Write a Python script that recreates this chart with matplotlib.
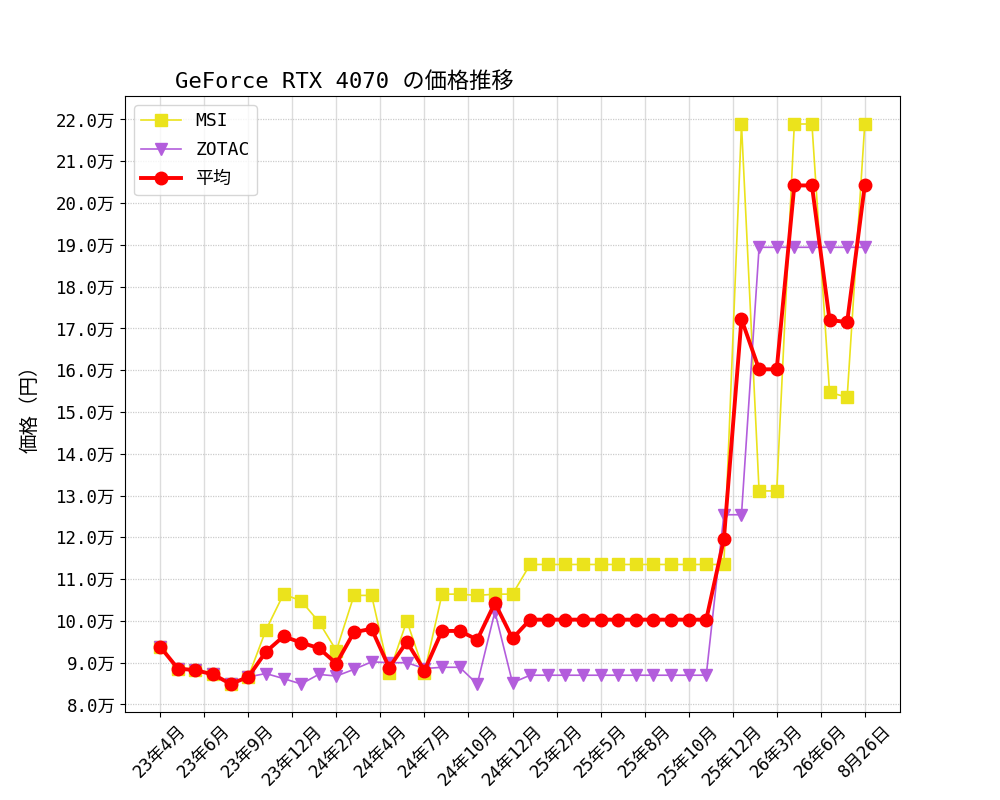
import matplotlib
matplotlib.use("Agg")
import matplotlib.pyplot as plt
from matplotlib.ticker import MultipleLocator, FuncFormatter
import numpy as np

plt.rcParams['font.family'] = ['DejaVu Sans Mono', 'Noto Sans CJK JP']

# x tick labels (17 evenly spaced over the 41 samples)
tick_labels = ['23年4月', '23年6月', '23年9月', '23年12月', '24年2月', '24年4月',
               '24年7月', '24年10月', '24年12月', '25年2月', '25年5月', '25年8月',
               '25年10月', '25年12月', '26年3月', '26年6月', '8月26日']

# prices in yen
msi = [93800, 88600, 88200, 87200, 84900, 86600, 97800, 106400, 104800, 99800,
       92900, 106100, 106100, 87600, 100000, 87600, 106400, 106400, 106100, 106400,
       106400] + [113500] * 12 + [218900, 131100, 131100, 218900, 218900,
                                  154700, 153500, 218900]
zotac = [93800, 88600, 88200, 87200, 84900, 86600, 87400, 86200, 84900, 87200,
         86800, 88400, 90200, 90000, 90000, 88600, 88900, 88900, 84900, 102200,
         85200] + [87000] * 11 + [125400, 125400] + [189400] * 7
average = [93800, 88600, 88200, 87200, 84900, 86600, 92600, 96300, 94800, 93500,
           89800, 97300, 98100, 88800, 95000, 88100, 97600, 97600, 95500, 104300,
           95800] + [100300] * 11 + [119500, 172200, 160200, 160200, 204200,
                                     204200, 172000, 171500, 204200]

x = np.arange(len(average))

fig, ax = plt.subplots(figsize=(10, 8), dpi=100)

ax.plot(x, msi, color='#ebe31c', marker='s', markersize=8.5, linewidth=1.2, label='MSI')
ax.plot(x, zotac, color='#b35ddc', marker='v', markersize=9, linewidth=1.2, label='ZOTAC')
ax.plot(x, average, color='red', marker='o', markersize=9, linewidth=2.8, label='平均')

ax.set_xticks(np.linspace(0, len(x) - 1, len(tick_labels)))
ax.set_xticklabels(tick_labels, rotation=45, fontsize=12.5)

ax.yaxis.set_major_locator(MultipleLocator(10000))
ax.yaxis.set_major_formatter(FuncFormatter(lambda v, p: f'{v / 10000:.1f}万'))
ax.tick_params(axis='y', labelsize=12.5)

ax.set_ylabel('価格（円）', fontsize=14, labelpad=12)
ax.set_title('GeForce RTX 4070 の価格推移', loc='left', x=0.064, fontsize=16)

ax.grid(axis='x', color='#dcdcdc', linewidth=1.0)
ax.grid(axis='y', color='#cccccc', linewidth=0.9, linestyle=(0, (1, 1)))

ax.legend(loc='upper left', fontsize=13, labelspacing=0.6, handlelength=2.2)

plt.savefig('out.png', dpi=100)
